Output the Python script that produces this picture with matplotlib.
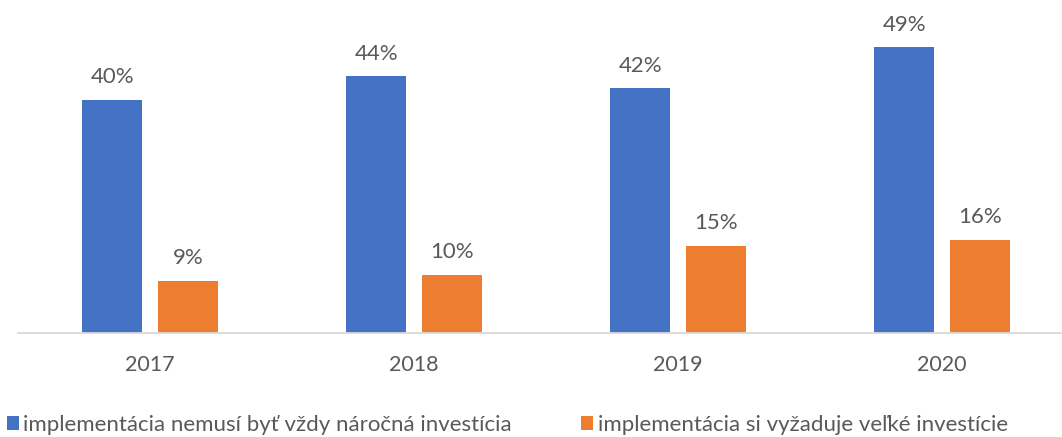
import matplotlib
matplotlib.use("Agg")
import matplotlib.pyplot as plt
import numpy as np

years = ["2017", "2018", "2019", "2020"]
not_demanding = [40, 44, 42, 49]
big_investment = [9, 10, 15, 16]
series_names = ["implementácia nemusí byť vždy náročná investícia",
                "implementácia si vyžaduje veľké investície"]
colors = ["#4472C4", "#ED7D31"]

plt.rcParams['font.family'] = ['Lato', 'DejaVu Sans']
text_color = "#595959"

W, H = 1062, 437
fig = plt.figure(figsize=(W/100, H/100), dpi=100)
left_px, base_px = 18, 333
ax = fig.add_axes([left_px/W, (H-base_px)/H, 1 - left_px/W, base_px/H])

x = np.arange(len(years))
bw = 60/264
off = 37.75/264
b1 = ax.bar(x - off, not_demanding, bw, color=colors[0], label=series_names[0])
b2 = ax.bar(x + off, big_investment, bw, color=colors[1], label=series_names[1])

for bars, vals in ((b1, not_demanding), (b2, big_investment)):
    for r, v in zip(bars, vals):
        ax.annotate(f"{v}%", (r.get_x() + r.get_width()/2, r.get_height()),
                    xytext=(0, 9), textcoords="offset points",
                    ha="center", va="bottom", fontsize=16, color=text_color)

ax.set_xlim(-0.5, -0.5 + (W - left_px)/264)
ax.set_ylim(0, base_px/5.83)
ax.set_yticks([])
ax.set_xticks(x)
ax.set_xticklabels(years, fontsize=15.5, color=text_color)
ax.tick_params(axis='x', length=0, pad=16)
for s in ("top", "right", "left"):
    ax.spines[s].set_visible(False)
ax.spines["bottom"].set_color("#D9D9D9")
ax.spines["bottom"].set_linewidth(1.3)

leg = fig.legend(handles=[b1, b2], labels=series_names, loc="center left",
                 bbox_to_anchor=(0.0, (H-425)/H), ncol=2, frameon=False,
                 fontsize=16, handlelength=0.55, handleheight=0.55,
                 handletextpad=0.2, columnspacing=3.1, borderaxespad=0,
                 borderpad=0.3)
for t in leg.get_texts():
    t.set_color(text_color)

fig.savefig("out.png", dpi=100)
